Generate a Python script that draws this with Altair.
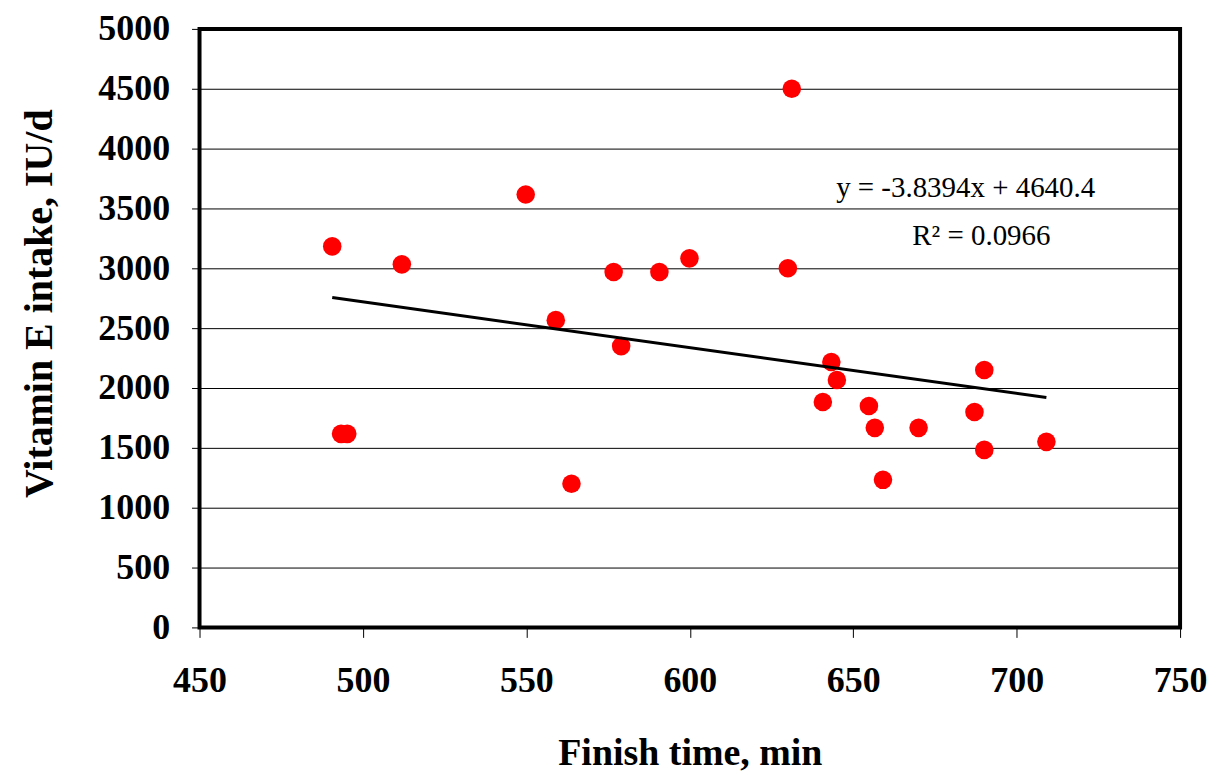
import altair as alt
import pandas as pd

finish_time = [490.6, 493.3, 495.2, 511.9, 549.8, 559.0, 563.8, 576.7, 579.0, 590.7,
               599.9, 630.0, 631.2, 640.7, 643.3, 645.0, 654.8, 656.6, 659.1, 670.0,
               687.1, 690.1, 690.1, 709.1]
vitamin_e = [3183, 1617, 1617, 3033, 3617, 2567, 1200, 2969, 2350, 2969,
             3083, 3000, 4500, 1883, 2217, 2067, 1850, 1667, 1233, 1667,
             1800, 2150, 1483, 1550]

eq_text = ["y = -3.8394x + 4640.4", "R\u00b2 = 0.0966"]
eq_x = [684.4, 689.2]
eq_y = [3667, 3267]

df = pd.DataFrame({"x": finish_time, "y": vitamin_e})
ann = pd.DataFrame({"x": eq_x, "y": eq_y, "t": eq_text})

xs = alt.Scale(domain=[450, 750], nice=False, zero=False)
ys = alt.Scale(domain=[0, 5000], nice=False)

xaxis = alt.Axis(title="Finish time, min", values=[450, 500, 550, 600, 650, 700, 750],
                 format="d", grid=False, tickSize=10, tickColor="black", tickWidth=1,
                 labelFlush=False, labelBound=False, labelOverlap=False,
                 labelPadding=26, labelFontSize=36, labelFont="Liberation Serif",
                 labelFontWeight="bold", labelColor="black",
                 titleFontSize=38, titleFont="Liberation Serif", titleFontWeight="bold",
                 titleColor="black", titlePadding=36, domain=False)
yaxis = alt.Axis(title="Vitamin E intake, IU/d", values=list(range(0, 5001, 500)),
                 format="d", grid=True, gridColor="black", gridWidth=1, gridOpacity=1,
                 tickSize=8, tickColor="black", tickWidth=1,
                 labelFlush=False, labelBound=False, labelOverlap=False,
                 labelPadding=22, labelFontSize=36, labelFont="Liberation Serif",
                 labelFontWeight="bold", labelColor="black",
                 titleFontSize=40, titleFont="Liberation Serif", titleFontWeight="bold",
                 titleColor="black", titlePadding=38, titleY=275, domain=False)

points = alt.Chart(df).mark_circle(size=346, color="#FF0000", opacity=1).encode(
    x=alt.X("x:Q", scale=xs, axis=xaxis),
    y=alt.Y("y:Q", scale=ys, axis=yaxis),
)

trend = alt.Chart(df).transform_regression("x", "y", method="linear").mark_line(
    color="black", strokeWidth=3
).encode(x=alt.X("x:Q", scale=xs), y=alt.Y("y:Q", scale=ys))

text = alt.Chart(ann).mark_text(font="Liberation Serif", fontSize=29, color="black",
                                align="center", baseline="middle").encode(
    x=alt.X("x:Q", scale=xs), y=alt.Y("y:Q", scale=ys), text="t:N")

chart = alt.layer(points, trend, text).properties(
    width=983, height=600,
    autosize=alt.AutoSizeParams(type="none"),
    padding={"left": 192, "top": 20, "right": 30, "bottom": 145},
    background="white",
).configure_view(stroke="black", strokeWidth=4, fill="white")

chart.save("out.html", embed_options={"renderer": "svg", "actions": False})
